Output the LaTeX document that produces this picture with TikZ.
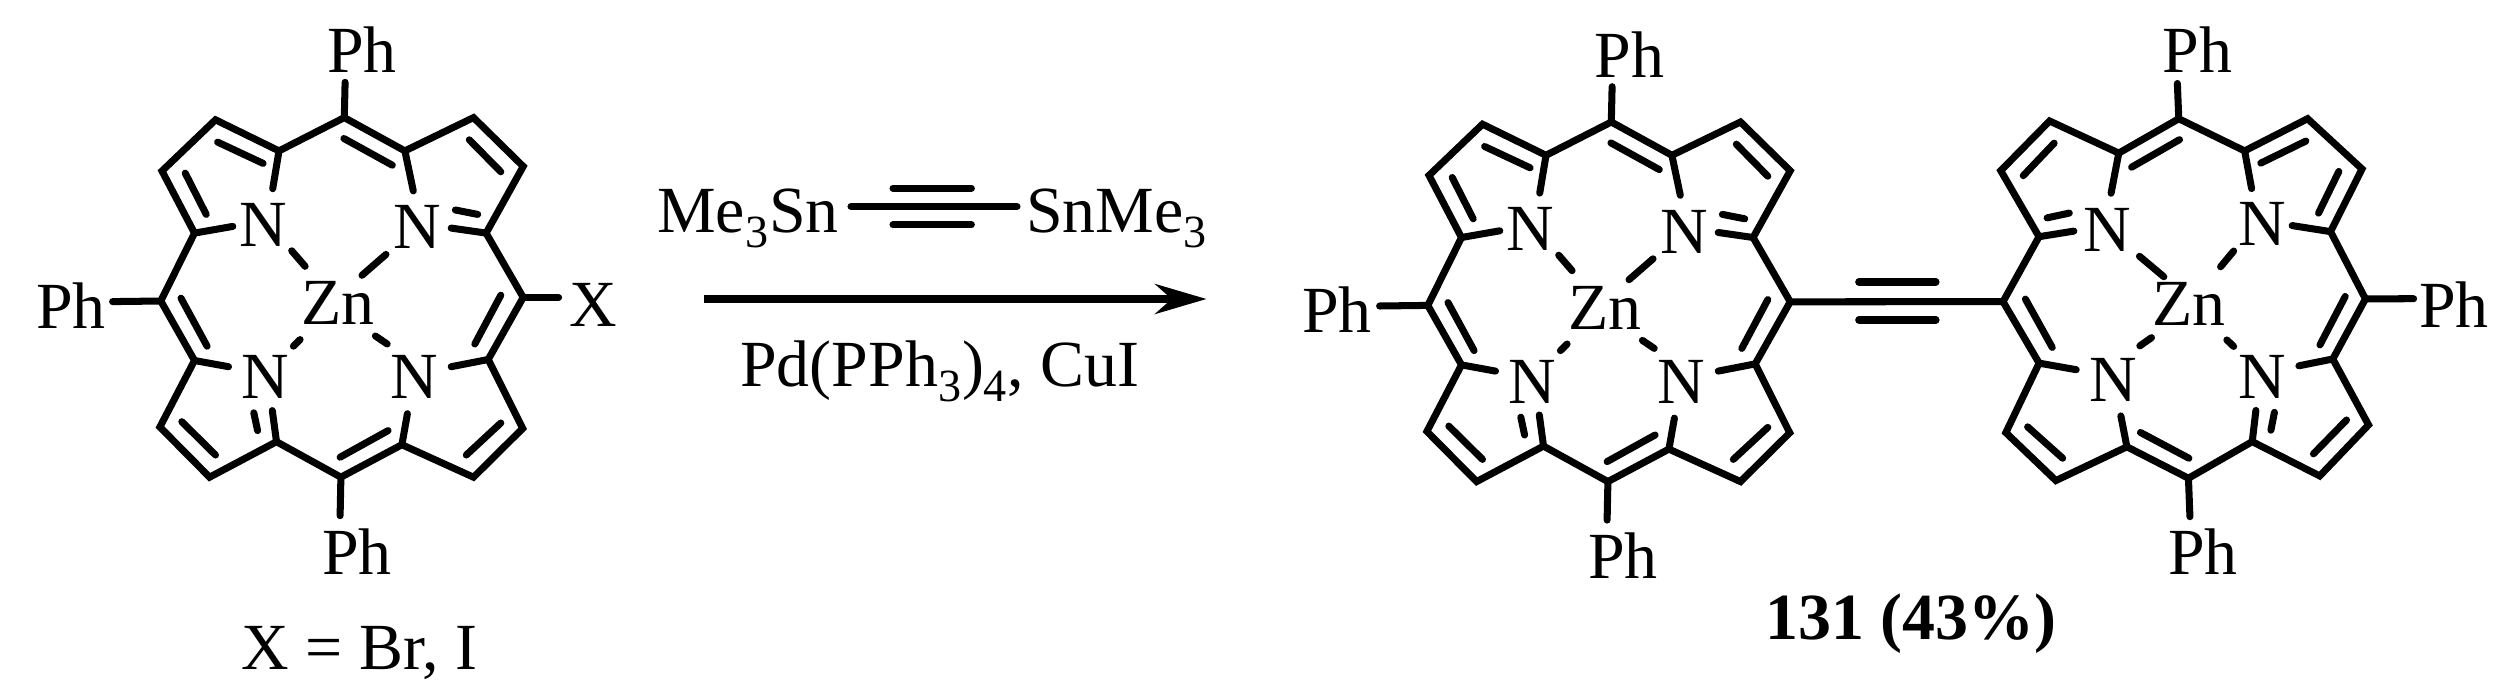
\documentclass[tikz,border=0pt]{standalone}
\usepackage{fontspec}
\setmainfont{Liberation Serif}
\usetikzlibrary{arrows.meta,calc}
\tikzset{
  atom/.style={font=\fontsize{37.5}{44}\selectfont,inner sep=0pt},
  bond/.style={line width=4pt,line cap=round,line join=miter},
  porphyrin/.pic={
    % ring atoms
    \coordinate (-mT) at (1.7,179.8);
    \coordinate (-aTR) at (62.3,146.5);
    \coordinate (-bTR) at (130.9,179.8);
    \coordinate (-cTR) at (180.6,131);
    \coordinate (-aRT) at (143.5,64.3);
    \coordinate (-mR) at (180.6,0);
    \coordinate (-aRB) at (145.6,-62.1);
    \coordinate (-cBR) at (180.1,-131);
    \coordinate (-bBR) at (130.9,-179.8);
    \coordinate (-aBR) at (59.3,-147.3);
    \coordinate (-mB) at (-1.7,-179.8);
    \coordinate (-aBL) at (-66.1,-144.3);
    \coordinate (-bBL) at (-133,-179.8);
    \coordinate (-cBL) at (-182.7,-129.6);
    \coordinate (-aLB) at (-148.1,-63.1);
    \coordinate (-mL) at (-181.8,-3.6);
    \coordinate (-aLT) at (-148.1,64.3);
    \coordinate (-cTL) at (-180.6,126.4);
    \coordinate (-bTL) at (-127.1,177.6);
    \coordinate (-aTL) at (-63.6,146.5);
    \draw[bond] (-mT) -- (-aTR) -- (-bTR) -- (-cTR) -- (-aRT) -- (-mR) -- (-aRB) -- (-cBR) -- (-bBR) -- (-aBR) -- (-mB) -- (-aBL) -- (-bBL) -- (-cBL) -- (-aLB) -- (-mL) -- (-aLT) -- (-cTL) -- (-bTL) -- (-aTL) -- cycle;
    % atoms in the middle
    \node[atom] (-nTL) at (-79.5,72.8) {N};
    \node[atom] (-nTR) at (74.9,70.1) {N};
    \node[atom] (-nBL) at (-77.5,-79.9) {N};
    \node[atom] (-nBR) at (72,-79.9) {N};
    \node[atom] (-zn) at (-5,-5.8) {Zn};
    % bonds to nitrogen
    \draw[bond] (-aTL) -- (-69.9,108.7);
    \draw[bond] (-aLT) -- (-109.8,71);
    \draw[bond] (-aTR) -- (70.7,106.5);
    \draw[bond] (-aRT) -- (108.6,69.3);
    \draw[bond] (-aLB) -- (-114.1,-69.3);
    \draw[bond] (-aBL) -- (-70.3,-113.2);
    \draw[bond] (-aRB) -- (108.6,-69.3);
    \draw[bond] (-aBR) -- (64.8,-116.3);
    % inner double bonds
    \draw[bond] (-79.5,134) -- (-125,155.3);
    \draw[bond] (49.7,132.2) -- (1.3,158.9);
    \draw[bond] (158.2,125.6) -- (126.7,157.6);
    \draw[bond] (-136.4,83) -- (-157.4,124.3);
    \draw[bond] (-135.5,-48.8) -- (-161.6,-0.8);
    \draw[bond] (158.2,2.2) -- (132.2,-46.6);
    \draw[bond] (-127.1,-157.6) -- (-160.8,-124.3);
    \draw[bond] (45.5,-133.2) -- (-2.5,-159.8);
    \draw[bond] (158.2,-125.6) -- (123.7,-157.6);
    \draw[bond] (135.1,83) -- (112.8,87.4);
    \draw[bond] (-85,-133.2) -- (-88.8,-115.4);
    % dashes to zinc
    \draw[bond] (-37.5,31.1) -- (-50.9,46.6);
    \draw[bond] (19.4,22.1) -- (43.4,43);
    \draw[bond] (-42.5,-42.2) -- (-49.2,-48.8);
    \draw[bond] (32.8,-38.6) -- (44.6,-46.6);
    % phenyl bonds
    \draw[bond] (-mT) -- (2.5,215.1);
    \draw[bond] (-mL) -- (-230,-4.2);
    \draw[bond] (-mB) -- (-2.5,-218.3);
  }
}
\begin{document}
\begin{tikzpicture}[x=.02cm,y=.02cm]
\useasboundingbox (0,0) rectangle (2501,-696);
\pic (m1) at (342.6,-297.4) {porphyrin};
\pic (m2) at (1609.6,-301.8) {porphyrin};
\pic[rotate=1,xscale=-1] (m3) at (2183.6,-298.5) {porphyrin};
% labels of the first molecule
\node[atom] (ph1a) at (362,-49.7) {Ph};
\node[atom] (ph1b) at (71.1,-305.4) {Ph};
\node[atom] (ph1c) at (356.9,-551.7) {Ph};
\node[atom] (xsub) at (593.4,-305) {X};
\coordinate (xend) at (558.6,-297.4);
\draw[bond] (m1-mR) -- (xend);
\node[atom,anchor=base] (xlist) at (359.6,-669) {X = Br, I};
% reagents and arrow
\node[atom,anchor=base west] (snl) at (657,-232.5) {Me\textsubscript{3}Sn};
\node[atom,anchor=base west] (snr) at (1025.7,-232.5) {SnMe\textsubscript{3}};
\coordinate (ta) at (851,-206.5);
\coordinate (tb) at (1017,-206.5);
\coordinate (tc) at (893,-188.2);
\coordinate (td) at (971.4,-188.2);
\coordinate (te) at (893,-224.8);
\coordinate (tf) at (971.4,-224.8);
\draw[bond] (ta) -- (tb);
\draw[bond] (tc) -- (td);
\draw[bond] (te) -- (tf);
\coordinate (arra) at (704,-299);
\coordinate (arrb) at (1206.5,-299);
\draw[line width=4pt,-{Stealth[length=1.03cm,width=.6cm]}] (arra) -- (arrb);
\node[atom,anchor=base] (cat) at (940,-386.5) {Pd(PPh\textsubscript{3})\textsubscript{4}, CuI};
% second molecule and the link
\node[atom] (ph2a) at (1629.3,-54.2) {Ph};
\node[atom] (ph2b) at (1336.8,-309.4) {Ph};
\node[atom] (ph2c) at (1623,-555.7) {Ph};
\coordinate (lka) at (1858.7,-282);
\coordinate (lkb) at (1936,-282);
\coordinate (lkc) at (1858.7,-320);
\coordinate (lkd) at (1936,-320);
\draw[bond] (m2-mR) -- (m3-mR);
\draw[bond] (lka) -- (lkb);
\draw[bond] (lkc) -- (lkd);
% third molecule
\node[atom] (ph3a) at (2197.7,-49.7) {Ph};
\node[atom] (ph3b) at (2454,-304.5) {Ph};
\node[atom] (ph3c) at (2202.8,-551.7) {Ph};
\node[atom,anchor=base] (yield) at (1911,-639) {\bfseries 131 (43\%)};
\end{tikzpicture}
\end{document}
